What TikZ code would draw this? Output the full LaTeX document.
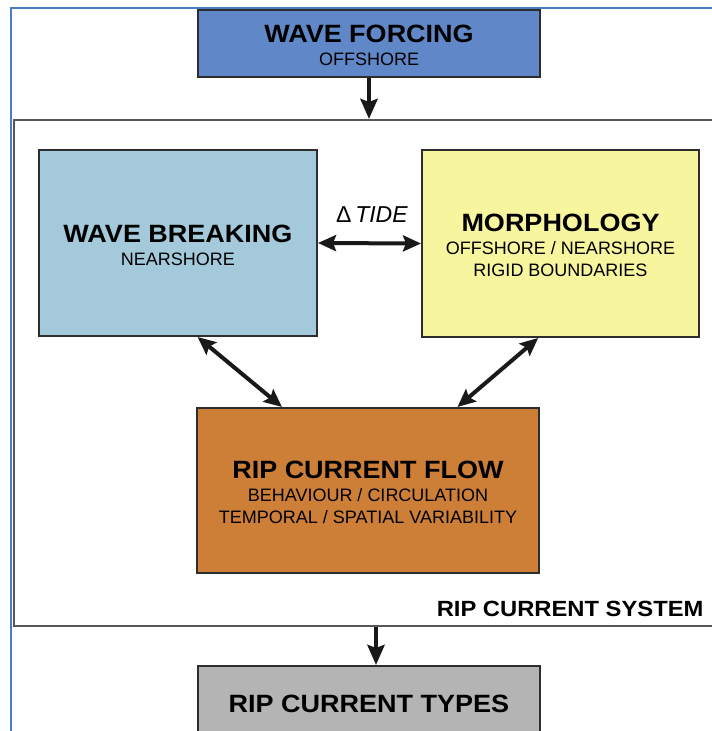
\documentclass[tikz,border=0pt]{standalone}
\usepackage{fontspec}
\setmainfont{Liberation Sans}
\newfontfamily\headfont[FakeStretch=1.08]{Liberation Sans Bold}
\usetikzlibrary{arrows.meta}
\usetikzlibrary{calc}
\usepackage{xcolor}

\definecolor{frameblue}{RGB}{74,126,192}
\definecolor{boxline}{RGB}{45,45,45}
\definecolor{forcingfill}{RGB}{96,135,199}
\definecolor{breakfill}{RGB}{163,201,218}
\definecolor{morphfill}{RGB}{247,245,158}
\definecolor{flowfill}{RGB}{205,127,56}
\definecolor{typesfill}{RGB}{180,180,180}

\newcommand{\boxtitle}[1]{{\rule{0pt}{22pt}\headfont\fontsize{25}{25}\selectfont #1}}

\begin{document}
\begin{tikzpicture}[x=1pt,y=-1pt,
    box/.style={draw=boxline, line width=2pt, rectangle, align=center, inner sep=0pt,
      font=\fontsize{18}{22}\selectfont},
    biarrow/.style={{Stealth[length=18pt,width=16pt,inset=3pt]}-{Stealth[length=18pt,width=16pt,inset=3pt]},
      line width=4pt, draw=black!90},
    flowarrow/.style={-{Stealth[length=20pt,width=17pt,inset=3pt]}, line width=4.5pt, draw=black!90}]
    \useasboundingbox (0,0) rectangle (712,731);

    % outer frame
    \draw[frameblue, line width=2pt] (11,760) |- (740,8);

    % system box and its label
    \node[draw=boxline!80, line width=2pt, rectangle, minimum width=708pt, minimum height=506pt] (sys) at (368,373) {};
    \node[anchor=base east, font=\headfont\fontsize{22}{22}\selectfont] (syslbl) at (707,616) {RIP CURRENT SYSTEM};

    \node[box, fill=forcingfill, minimum width=342pt, minimum height=67pt] (wf) at (369,43.5)
      {\boxtitle{WAVE FORCING}\\[1pt]OFFSHORE};
    \node[box, fill=breakfill, minimum width=278pt, minimum height=186pt] (wb) at (178,243)
      {\boxtitle{WAVE BREAKING}\\[1pt]NEARSHORE};
    \node[box, fill=morphfill, minimum width=277pt, minimum height=187pt] (morph) at (560.5,243.5)
      {\boxtitle{MORPHOLOGY}\\[1pt]OFFSHORE / NEARSHORE\\RIGID BOUNDARIES};
    \node[box, fill=flowfill, minimum width=342pt, minimum height=165pt] (rcf) at (368,490.5)
      {\boxtitle{RIP CURRENT FLOW}\\[1pt]BEHAVIOUR / CIRCULATION\\TEMPORAL / SPATIAL VARIABILITY};
    \node[box, fill=typesfill, minimum width=342pt, minimum height=72pt] (types) at (369,702)
      {\boxtitle{RIP CURRENT TYPES}};

    \node[anchor=base, font=\fontsize{23}{23}\selectfont] (tide) at (372,222) {Δ\,\textit{TIDE}};

    \draw[flowarrow] (wf.south) -- (wf.south |- sys.north);
    \draw[biarrow] (wb.east) -- (morph.west);
    \draw[biarrow] ($(wb.south west)!0.57!(wb.south east)$) -- ($(rcf.north west)!0.25!(rcf.north east)$);
    \draw[biarrow] ($(morph.south west)!0.42!(morph.south east)$) -- ($(rcf.north west)!0.76!(rcf.north east)$);
    \draw[flowarrow] ([xshift=8pt]sys.south) -- ([xshift=8pt]sys.south |- types.north);
\end{tikzpicture}
\end{document}
